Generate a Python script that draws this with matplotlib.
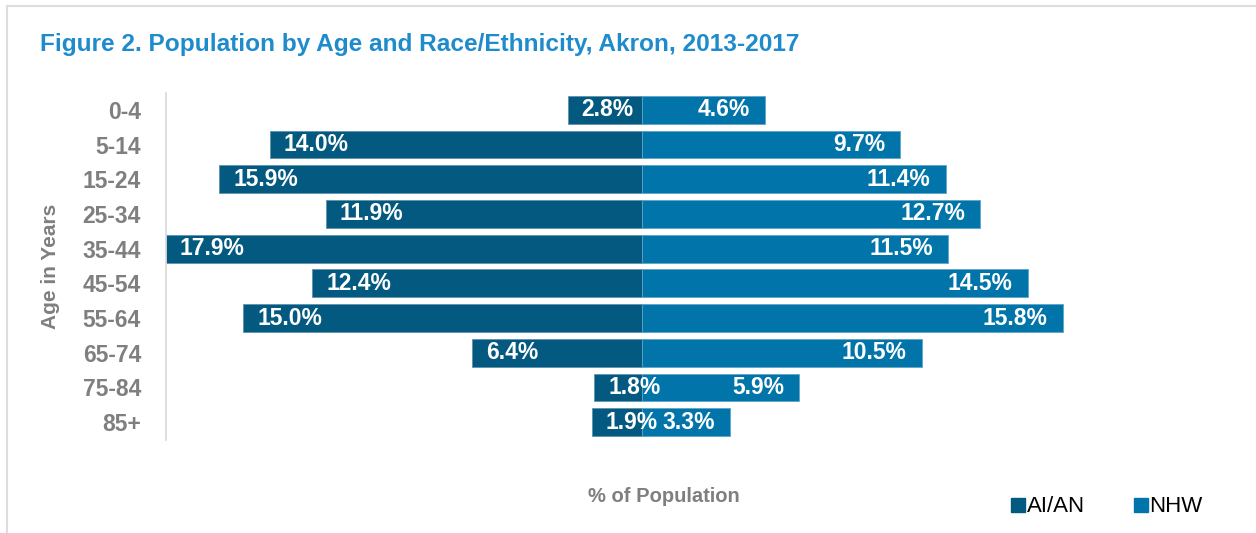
import matplotlib.pyplot as plt
from matplotlib.lines import Line2D
from matplotlib.patches import Rectangle

# Данные: доля населения по возрастным группам, %
age_groups = ['0-4', '5-14', '15-24', '25-34', '35-44', '45-54',
              '55-64', '65-74', '75-84', '85+']
aian = [2.8, 14.0, 15.9, 11.9, 17.9, 12.4, 15.0, 6.4, 1.8, 1.9]
nhw = [4.6, 9.7, 11.4, 12.7, 11.5, 14.5, 15.8, 10.5, 5.9, 3.3]

dark = '#03597F'
light = '#0174AA'
grey = '#7F7F7F'

plt.rcParams['font.family'] = ['Liberation Sans', 'DejaVu Sans']

fig = plt.figure(figsize=(12.56, 5.33), dpi=100)
ax = fig.add_axes([166 / 1256, 1 - 439.5 / 533, (1225 - 166) / 1256, (439.5 - 92.5) / 533])

y = list(range(len(age_groups)))
ax.barh(y, [-v for v in aian], height=0.8, color=dark, edgecolor='#5E93AE', linewidth=0.6)
ax.barh(y, nhw, height=0.8, color=light, edgecolor='#5FA4C8', linewidth=0.6)

# подписи внутри столбцов
for i in y:
    ax.annotate(f'{aian[i]:.1f}%', (-aian[i], i), xytext=(10, 0), textcoords='offset points',
                ha='left', va='center', color='white', fontsize=16.5, fontweight='bold')
    ax.annotate(f'{nhw[i]:.1f}%', (nhw[i], i), xytext=(-11, 0), textcoords='offset points',
                ha='right', va='center', color='white', fontsize=16.5, fontweight='bold')

ax.set_xlim(-17.9, 21.9)
ax.set_ylim(len(age_groups) - 0.5, -0.5)
ax.set_yticks(y)
ax.set_yticklabels(age_groups, color=grey, fontsize=16.5, fontweight='bold')
ax.tick_params(axis='y', length=0, pad=18)
ax.set_xticks([])
for s in ['top', 'right', 'bottom']:
    ax.spines[s].set_visible(False)
ax.spines['left'].set_color('#D9D9D9')
ax.spines['left'].set_linewidth(1.2)

fig.text(40 / 1256, 1 - 45 / 533, 'Figure 2. Population by Age and Race/Ethnicity, Akron, 2013-2017',
         color='#1E8BCD', fontsize=17.6, fontweight='bold', va='center', ha='left')
fig.text(50 / 1256, 1 - 266 / 533, 'Age in Years', rotation=90, color=grey,
         fontsize=15, fontweight='bold', va='center', ha='center')
fig.text(664 / 1256, 1 - 497 / 533, '% of Population', color=grey,
         fontsize=14.5, fontweight='bold', va='center', ha='center')

handles = [Line2D([], [], marker='s', linestyle='', markersize=10, color=dark),
           Line2D([], [], marker='s', linestyle='', markersize=10, color=light)]
fig.legend(handles, ['AI/AN', 'NHW'], loc='center left',
           bbox_to_anchor=(987 / 1256, 1 - 507 / 533), ncol=2, frameon=False,
           fontsize=16, handletextpad=-0.1, columnspacing=2.0, handlelength=1.0)

fig.patches.append(Rectangle((7 / 1256, -0.1), 1.2, 1 - 6 / 533 + 0.1, transform=fig.transFigure,
                             fill=False, edgecolor='#DDDDDD', linewidth=1.5))

fig.savefig('out.png', dpi=100)
